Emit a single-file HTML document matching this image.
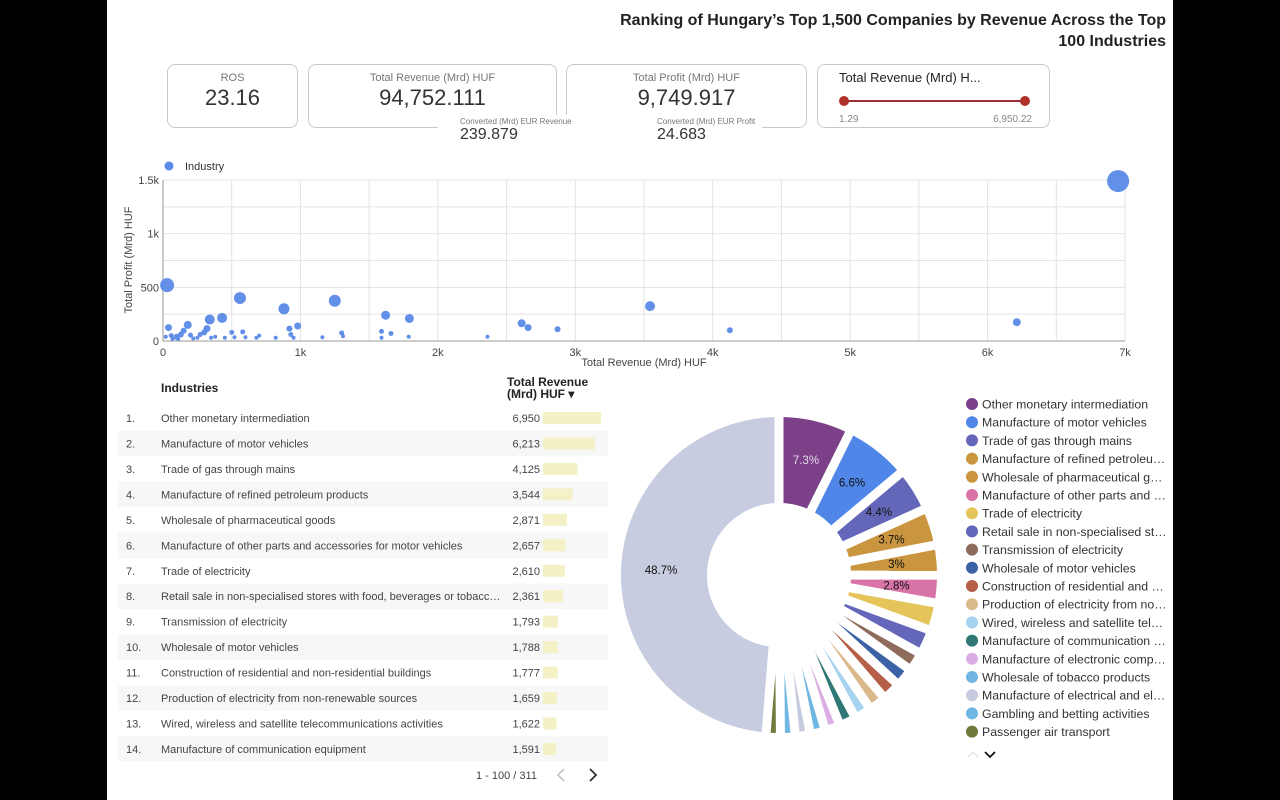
<!DOCTYPE html>
<html><head><meta charset="utf-8">
<style>
body{margin:0;width:1280px;height:800px;background:#000;font-family:"Liberation Sans",sans-serif;overflow:hidden;position:relative}
#page{position:absolute;left:107px;top:0;width:1066px;height:800px;background:#fff}
.abs{position:absolute}
.card{position:absolute;border:1px solid #c8c8c8;border-radius:8px;background:#fff;box-sizing:border-box}
.lab{position:absolute;left:0;right:0;text-align:center;font-size:11px;color:#777;top:7px}
.val{position:absolute;left:0;right:0;text-align:center;font-size:22px;color:#333;top:20px}
</style></head><body>
<div id="page"></div>
<div class="abs" style="right:114px;top:10px;text-align:right;font-size:16px;font-weight:bold;color:#222;line-height:21px">Ranking of Hungary’s Top 1,500 Companies by Revenue Across the Top<br>100 Industries</div>

<div class="card" style="left:167px;top:64px;width:131px;height:64px"><div class="lab">ROS</div><div class="val">23.16</div></div>
<div class="card" style="left:308px;top:64px;width:249px;height:64px"><div class="lab">Total Revenue (Mrd) HUF</div><div class="val">94,752.111</div></div>
<div class="card" style="left:566px;top:64px;width:241px;height:64px"><div class="lab">Total Profit (Mrd) HUF</div><div class="val">9,749.917</div></div>
<div class="abs" style="left:438px;top:115px;width:198px;height:30px;background:#fff">
 <div class="abs" style="left:22px;top:2px;font-size:8px;color:#777;white-space:nowrap">Converted (Mrd) EUR Revenue</div>
 <div class="abs" style="left:22px;top:11px;font-size:16px;color:#333">239.879</div></div>
<div class="abs" style="left:636px;top:115px;width:126px;height:30px;background:#fff">
 <div class="abs" style="left:21px;top:2px;font-size:8px;color:#777;white-space:nowrap">Converted (Mrd) EUR Profit</div>
 <div class="abs" style="left:21px;top:11px;font-size:16px;color:#333">24.683</div></div>
<div class="card" style="left:817px;top:64px;width:233px;height:64px">
 <div class="abs" style="left:21px;top:5px;font-size:13px;color:#222">Total Revenue (Mrd) H...</div>
 <div class="abs" style="left:26px;top:35px;width:181px;height:2px;background:#9b2f3a"></div>
 <div class="abs" style="left:21px;top:31px;width:10px;height:10px;border-radius:5px;background:#b0302a"></div>
 <div class="abs" style="left:202px;top:31px;width:10px;height:10px;border-radius:5px;background:#b0302a"></div>
 <div class="abs" style="left:21px;top:49px;font-size:10px;color:#888">1.29</div>
 <div class="abs" style="right:17px;top:49px;font-size:10px;color:#888">6,950.22</div>
</div>

<svg id="scatter" class="abs" style="left:0;top:0" width="1280" height="380"></svg>
<svg id="table" class="abs" style="left:0;top:370px" width="620" height="430"></svg>
<svg id="pie" class="abs" style="left:610px;top:390px" width="560" height="410"></svg>

<script>
// ---- scatter data ----
const scRevenue=[6950,6213,4125,3544,2871,2657,2610,2361,1793,1788,1620,1659,1590,1590,1250,1300,1310,980,920,880,930,950,560,580,430,340,320,300,270,180,150,130,100,60,40,30,20,200,220,380,500,450,600,700,820,1160,680,250,110,70,350,520];
const scProfit=[1490,175,100,325,110,125,165,40,210,40,240,70,90,30,375,75,45,140,115,300,60,30,400,85,215,200,115,80,60,150,95,60,40,50,125,520,40,55,25,40,80,30,35,50,30,35,30,30,20,20,30,35];
const scSize=[11,4,3,5,3,3.5,4,2,4.5,2,4.5,2.5,2.5,2,6,2.5,2,3.5,3,5.5,2.5,2,6,2.5,5,5,3.5,3,2.5,4,3,3,3,2.5,3.5,7,2,2.5,2,2,2.5,2,2,2,2,2,2,2,2,2,2,2];
const xTicks=[0,1000,2000,3000,4000,5000,6000,7000];
const xTickLabels=["0","1k","2k","3k","4k","5k","6k","7k"];
const yTicks=[0,500,1000,1500];
const yTickLabels=["0","500","1k","1.5k"];
// ---- table data ----
const industries=["Other monetary intermediation","Manufacture of motor vehicles","Trade of gas through mains","Manufacture of refined petroleum products","Wholesale of pharmaceutical goods","Manufacture of other parts and accessories for motor vehicles","Trade of electricity","Retail sale in non-specialised stores with food, beverages or tobacc…","Transmission of electricity","Wholesale of motor vehicles","Construction of residential and non-residential buildings","Production of electricity from non-renewable sources","Wired, wireless and satellite telecommunications activities","Manufacture of communication equipment"];
const revenues=[6950,6213,4125,3544,2871,2657,2610,2361,1793,1788,1777,1659,1622,1591];
// ---- donut data ----
const pieLabels=["Other monetary intermediation","Manufacture of motor vehicles","Trade of gas through mains","Manufacture of refined petroleu…","Wholesale of pharmaceutical g…","Manufacture of other parts and …","Trade of electricity","Retail sale in non-specialised st…","Transmission of electricity","Wholesale of motor vehicles","Construction of residential and …","Production of electricity from no…","Wired, wireless and satellite tel…","Manufacture of communication …","Manufacture of electronic comp…","Wholesale of tobacco products","Manufacture of electrical and el…","Gambling and betting activities","Passenger air transport"];
const pieValues=[6950,6213,4125,3544,2871,2657,2610,2361,1793,1788,1777,1659,1622,1591,1450,1430,1410,1390,1367];
const pieTotal=94752;
const pieColors=["#7b4088","#4f86e8","#6467b9","#c9963f","#c9963f","#d874a8","#e5c45a","#6467b9","#8e6b5a","#3c62a6","#b55e48","#d9b98a","#a6d3ef","#2e7775","#dcaee6","#6fb6e2","#c5cadf","#6fb6e2","#6f7a3c"];

const NS="http://www.w3.org/2000/svg";
function mk(p,t,a){const e=document.createElementNS(NS,t);for(const k in a)e.setAttribute(k,a[k]);p.appendChild(e);return e;}

// scatter
(function(){
 const s=document.getElementById('scatter');
 const X0=163,X1=1125,Y0=341,Y1=180;
 const xs=v=>X0+(v/7000)*(X1-X0), ys=v=>Y0-(v/1500)*(Y0-Y1);
 for(let v=0;v<=7000;v+=500){const l=mk(s,'line',{x1:xs(v),x2:xs(v),y1:Y1,y2:Y0,stroke:'#e3e3e3'});}
 for(let v=0;v<=1500;v+=250){const l=mk(s,'line',{x1:X0,x2:X1,y1:ys(v),y2:ys(v),stroke:'#e3e3e3'});}
 mk(s,'line',{x1:X0,x2:X1,y1:Y0,y2:Y0,stroke:'#999'});
 mk(s,'line',{x1:X0,x2:X0,y1:Y1,y2:Y0,stroke:'#999'});
 xTicks.forEach((v,i)=>{const t=mk(s,'text',{x:xs(v),y:356,'text-anchor':'middle','font-size':11,fill:'#444'});t.textContent=xTickLabels[i];});
 yTicks.forEach((v,i)=>{const t=mk(s,'text',{x:159,y:ys(v)+4,'text-anchor':'end','font-size':11,fill:'#444'});t.textContent=yTickLabels[i];});
 let t=mk(s,'text',{x:644,y:366,'text-anchor':'middle','font-size':11,fill:'#444'});t.textContent='Total Revenue (Mrd) HUF';
 t=mk(s,'text',{x:0,y:0,'text-anchor':'middle','font-size':11,fill:'#444',transform:'translate(132,260) rotate(-90)'});t.textContent='Total Profit (Mrd) HUF';
 const ld=mk(s,'circle',{cx:169,cy:166,r:4.5,fill:'#5a8ae8'});
 t=mk(s,'text',{x:185,y:170,'font-size':11,fill:'#333'});t.textContent='Industry';
 scRevenue.forEach((v,i)=>{const c=mk(s,'circle',{cx:xs(v),cy:ys(scProfit[i]),r:scSize[i],fill:'#5a8ae8','fill-opacity':0.95});});
})();

// table
(function(){
 const s=document.getElementById('table');const oy=370;
 let t=mk(s,'text',{x:161,y:392-oy,'font-size':12,'font-weight':'bold',fill:'#222'});t.textContent='Industries';
 t=mk(s,'text',{x:507,y:386-oy,'font-size':12,'font-weight':'bold',fill:'#222'});t.textContent='Total Revenue';
 t=mk(s,'text',{x:507,y:398-oy,'font-size':12,'font-weight':'bold',fill:'#222'});t.textContent='(Mrd) HUF  ▾';
 const maxV=revenues[0];
 revenues.forEach((v,i)=>{
  const cy=418+25.46*i-oy;
  if(i%2===1){const r=mk(s,'rect',{x:118,y:cy-12.7,width:490,height:25.46,fill:'#f7f7f8'});}
  let a=mk(s,'text',{x:126,y:cy+4,'font-size':11,fill:'#444'});a.textContent=(i+1)+'.';
  a=mk(s,'text',{x:161,y:cy+4,'font-size':11,fill:'#444'});a.textContent=industries[i];
  a=mk(s,'text',{x:540,y:cy+4,'font-size':11,fill:'#444','text-anchor':'end'});a.textContent=v.toLocaleString('en-US');
  const b=mk(s,'rect',{x:543,y:cy-6,width:v/maxV*58,height:12,fill:'#f4f1c6'});
 });
 t=mk(s,'text',{x:476,y:779-oy,'font-size':11,fill:'#444'});t.textContent='1 - 100 / 311';
 let p=mk(s,'path',{d:`M564 ${769-oy} L558 ${775-oy} L564 ${781-oy}`,stroke:'#bbb','stroke-width':1.5,fill:'none'});
 p=mk(s,'path',{d:`M590 ${769-oy} L596 ${775-oy} L590 ${781-oy}`,stroke:'#333','stroke-width':1.8,fill:'none'});
})();

// donut
(function(){
 const s=document.getElementById('pie');const ox=610,oy=390;
 const cx=779-ox,cy=575-oy,R=158,Rin=72,gap=9,lw=4;
 const others=pieTotal-pieValues.reduce((a,b)=>a+b,0);
 const vals=pieValues.concat([others]),cols=pieColors.concat(['#c7cce0']);
 function pt(r,a){return [cx+r*Math.sin(a),cy-r*Math.cos(a)];}
 let start=0;const bounds=[];
 const ro=R-lw/2, ri=Rin+lw/2;
 vals.forEach((v,i)=>{
  const span=v/pieTotal*2*Math.PI,a0=start,a1=start+span;start=a1;bounds.push(a0);
  const p1=pt(ro,a0),p2=pt(ro,a1),p3=pt(ri,a1),p4=pt(ri,a0);
  const lf=span>Math.PI?1:0;
  const d=`M${p1} A${ro} ${ro} 0 ${lf} 1 ${p2} L${p3} A${ri} ${ri} 0 ${lf} 0 ${p4}Z`;
  const e=mk(s,'path',{d:d,fill:cols[i],stroke:cols[i],'stroke-width':lw,'stroke-linejoin':'round'});
  
  
 });
 bounds.forEach(a=>{
  const q0=pt(0,a),q1=pt(R+5,a);
  const l=mk(s,'line',{x1:q0[0],y1:q0[1],x2:q1[0],y2:q1[1],stroke:'#fff','stroke-width':gap});
  
  
 });
 const hole=mk(s,'circle',{cx:cx,cy:cy,r:Rin,fill:'#fff'});
 
 
 start=0;
 vals.forEach((v,i)=>{
  const span=v/pieTotal*2*Math.PI,m=start+span/2;start+=span;
  const pct=v/pieTotal*100;
  if(pct>=2.78){const q=pt(118,m);
   const t=mk(s,'text',{x:q[0],y:q[1]+4,'text-anchor':'middle','font-size':11.5,fill:i===0?'#e6dcea':'#111'});
   t.textContent=(Math.round(pct*10)/10)+'%';
   
   }
 });
 pieLabels.forEach((l,i)=>{
  const y=404+18.2*i-oy;
  const c=mk(s,'circle',{cx:972-ox,cy:y,r:6,fill:pieColors[i]});
  
  
  const t=mk(s,'text',{x:982-ox,y:y+4.5,'font-size':12.3,fill:'#333'});t.textContent=l;
  
  
 });
 let p=mk(s,'path',{d:`M${968-ox} ${757-oy} L${973-ox} ${752-oy} L${978-ox} ${757-oy}`,stroke:'#e3e3e3','stroke-width':1.5,fill:'none'});
 p=mk(s,'path',{d:`M${985-ox} ${752-oy} L${990-ox} ${757-oy} L${995-ox} ${752-oy}`,stroke:'#111','stroke-width':1.8,fill:'none'});
})();
</script>
</body></html>
